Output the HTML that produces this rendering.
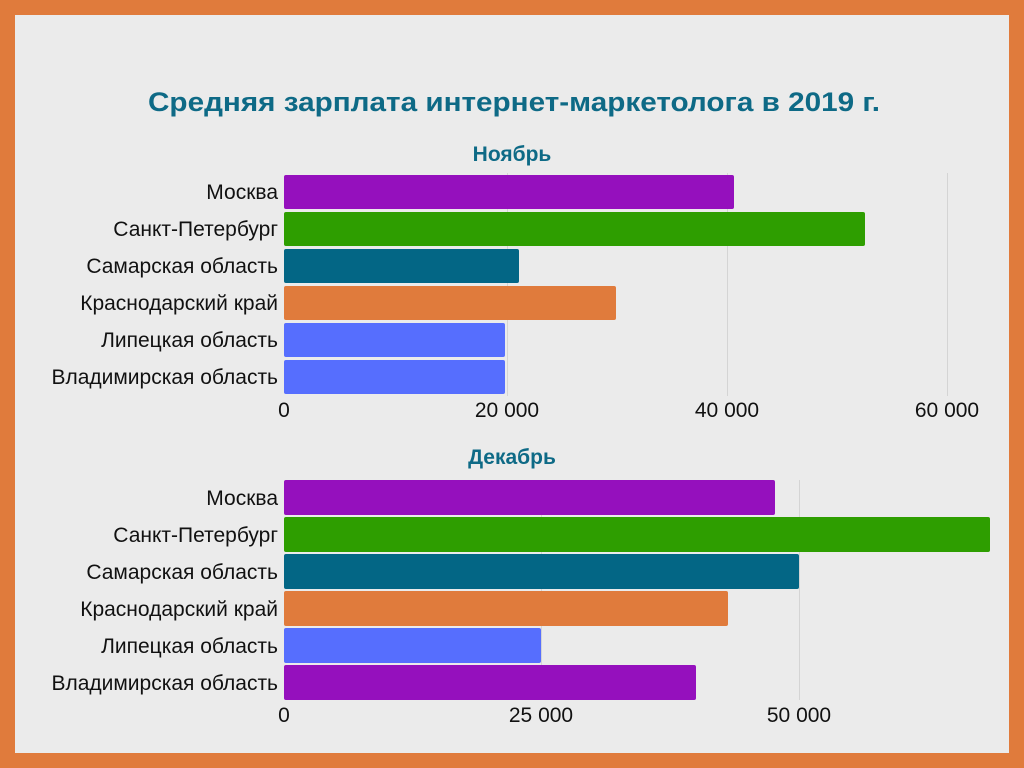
<!DOCTYPE html>
<html><head><meta charset="utf-8"><style>
html,body{margin:0;padding:0;width:1024px;height:768px;overflow:hidden;background:#e07b3c}
</style></head><body>
<svg width="1024" height="768" xmlns="http://www.w3.org/2000/svg" font-family="Liberation Sans, sans-serif">
<rect x="0" y="0" width="1024" height="768" fill="#e07b3c"/>
<rect x="15" y="15" width="994" height="738" fill="#ebebeb"/>
<text x="514" y="111" text-anchor="middle" font-size="27" font-weight="bold" fill="#0e6a86" textLength="732" lengthAdjust="spacingAndGlyphs">Средняя зарплата интернет-маркетолога в 2019 г.</text>
<text x="512" y="161" text-anchor="middle" font-size="21" font-weight="bold" fill="#0e6a86">Ноябрь</text>
<text x="512" y="464" text-anchor="middle" font-size="21" font-weight="bold" fill="#0e6a86">Декабрь</text>
<g stroke="#d4d4d4" stroke-width="1">
<line x1="947.5" y1="173" x2="947.5" y2="396"/>
<line x1="727.5" y1="173" x2="727.5" y2="396"/>
<line x1="507.5" y1="173" x2="507.5" y2="396"/>
<line x1="799.5" y1="480" x2="799.5" y2="700"/>
<line x1="541.5" y1="480" x2="541.5" y2="700"/>
</g>
<g>
<rect x="284" y="175" width="450" height="34" rx="2" fill="#9510bd"/>
<rect x="284" y="212" width="581" height="34" rx="2" fill="#2e9e00"/>
<rect x="284" y="249" width="235" height="34" rx="2" fill="#036685"/>
<rect x="284" y="286" width="332" height="34" rx="2" fill="#e07b3c"/>
<rect x="284" y="323" width="221" height="34" rx="2" fill="#566efe"/>
<rect x="284" y="360" width="221" height="34" rx="2" fill="#566efe"/>
<rect x="284" y="480" width="491" height="35" rx="2" fill="#9510bd"/>
<rect x="284" y="517" width="706" height="35" rx="2" fill="#2e9e00"/>
<rect x="284" y="554" width="515" height="35" rx="2" fill="#036685"/>
<rect x="284" y="591" width="444" height="35" rx="2" fill="#e07b3c"/>
<rect x="284" y="628" width="257" height="35" rx="2" fill="#566efe"/>
<rect x="284" y="665" width="412" height="35" rx="2" fill="#9510bd"/>
</g>
<g font-size="21" fill="#111" text-anchor="end">
<text x="278" y="199">Москва</text>
<text x="278" y="236">Санкт-Петербург</text>
<text x="278" y="273">Самарская область</text>
<text x="278" y="310">Краснодарский край</text>
<text x="278" y="347">Липецкая область</text>
<text x="278" y="384">Владимирская область</text>
<text x="278" y="505">Москва</text>
<text x="278" y="542">Санкт-Петербург</text>
<text x="278" y="579">Самарская область</text>
<text x="278" y="616">Краснодарский край</text>
<text x="278" y="653">Липецкая область</text>
<text x="278" y="690">Владимирская область</text>
</g>
<g font-size="21" fill="#111" text-anchor="middle">
<text x="284" y="417">0</text>
<text x="507" y="417">20 000</text>
<text x="727" y="417">40 000</text>
<text x="947" y="417">60 000</text>
<text x="284" y="722">0</text>
<text x="541" y="722">25 000</text>
<text x="799" y="722">50 000</text>
</g>
</svg>
</body></html>
